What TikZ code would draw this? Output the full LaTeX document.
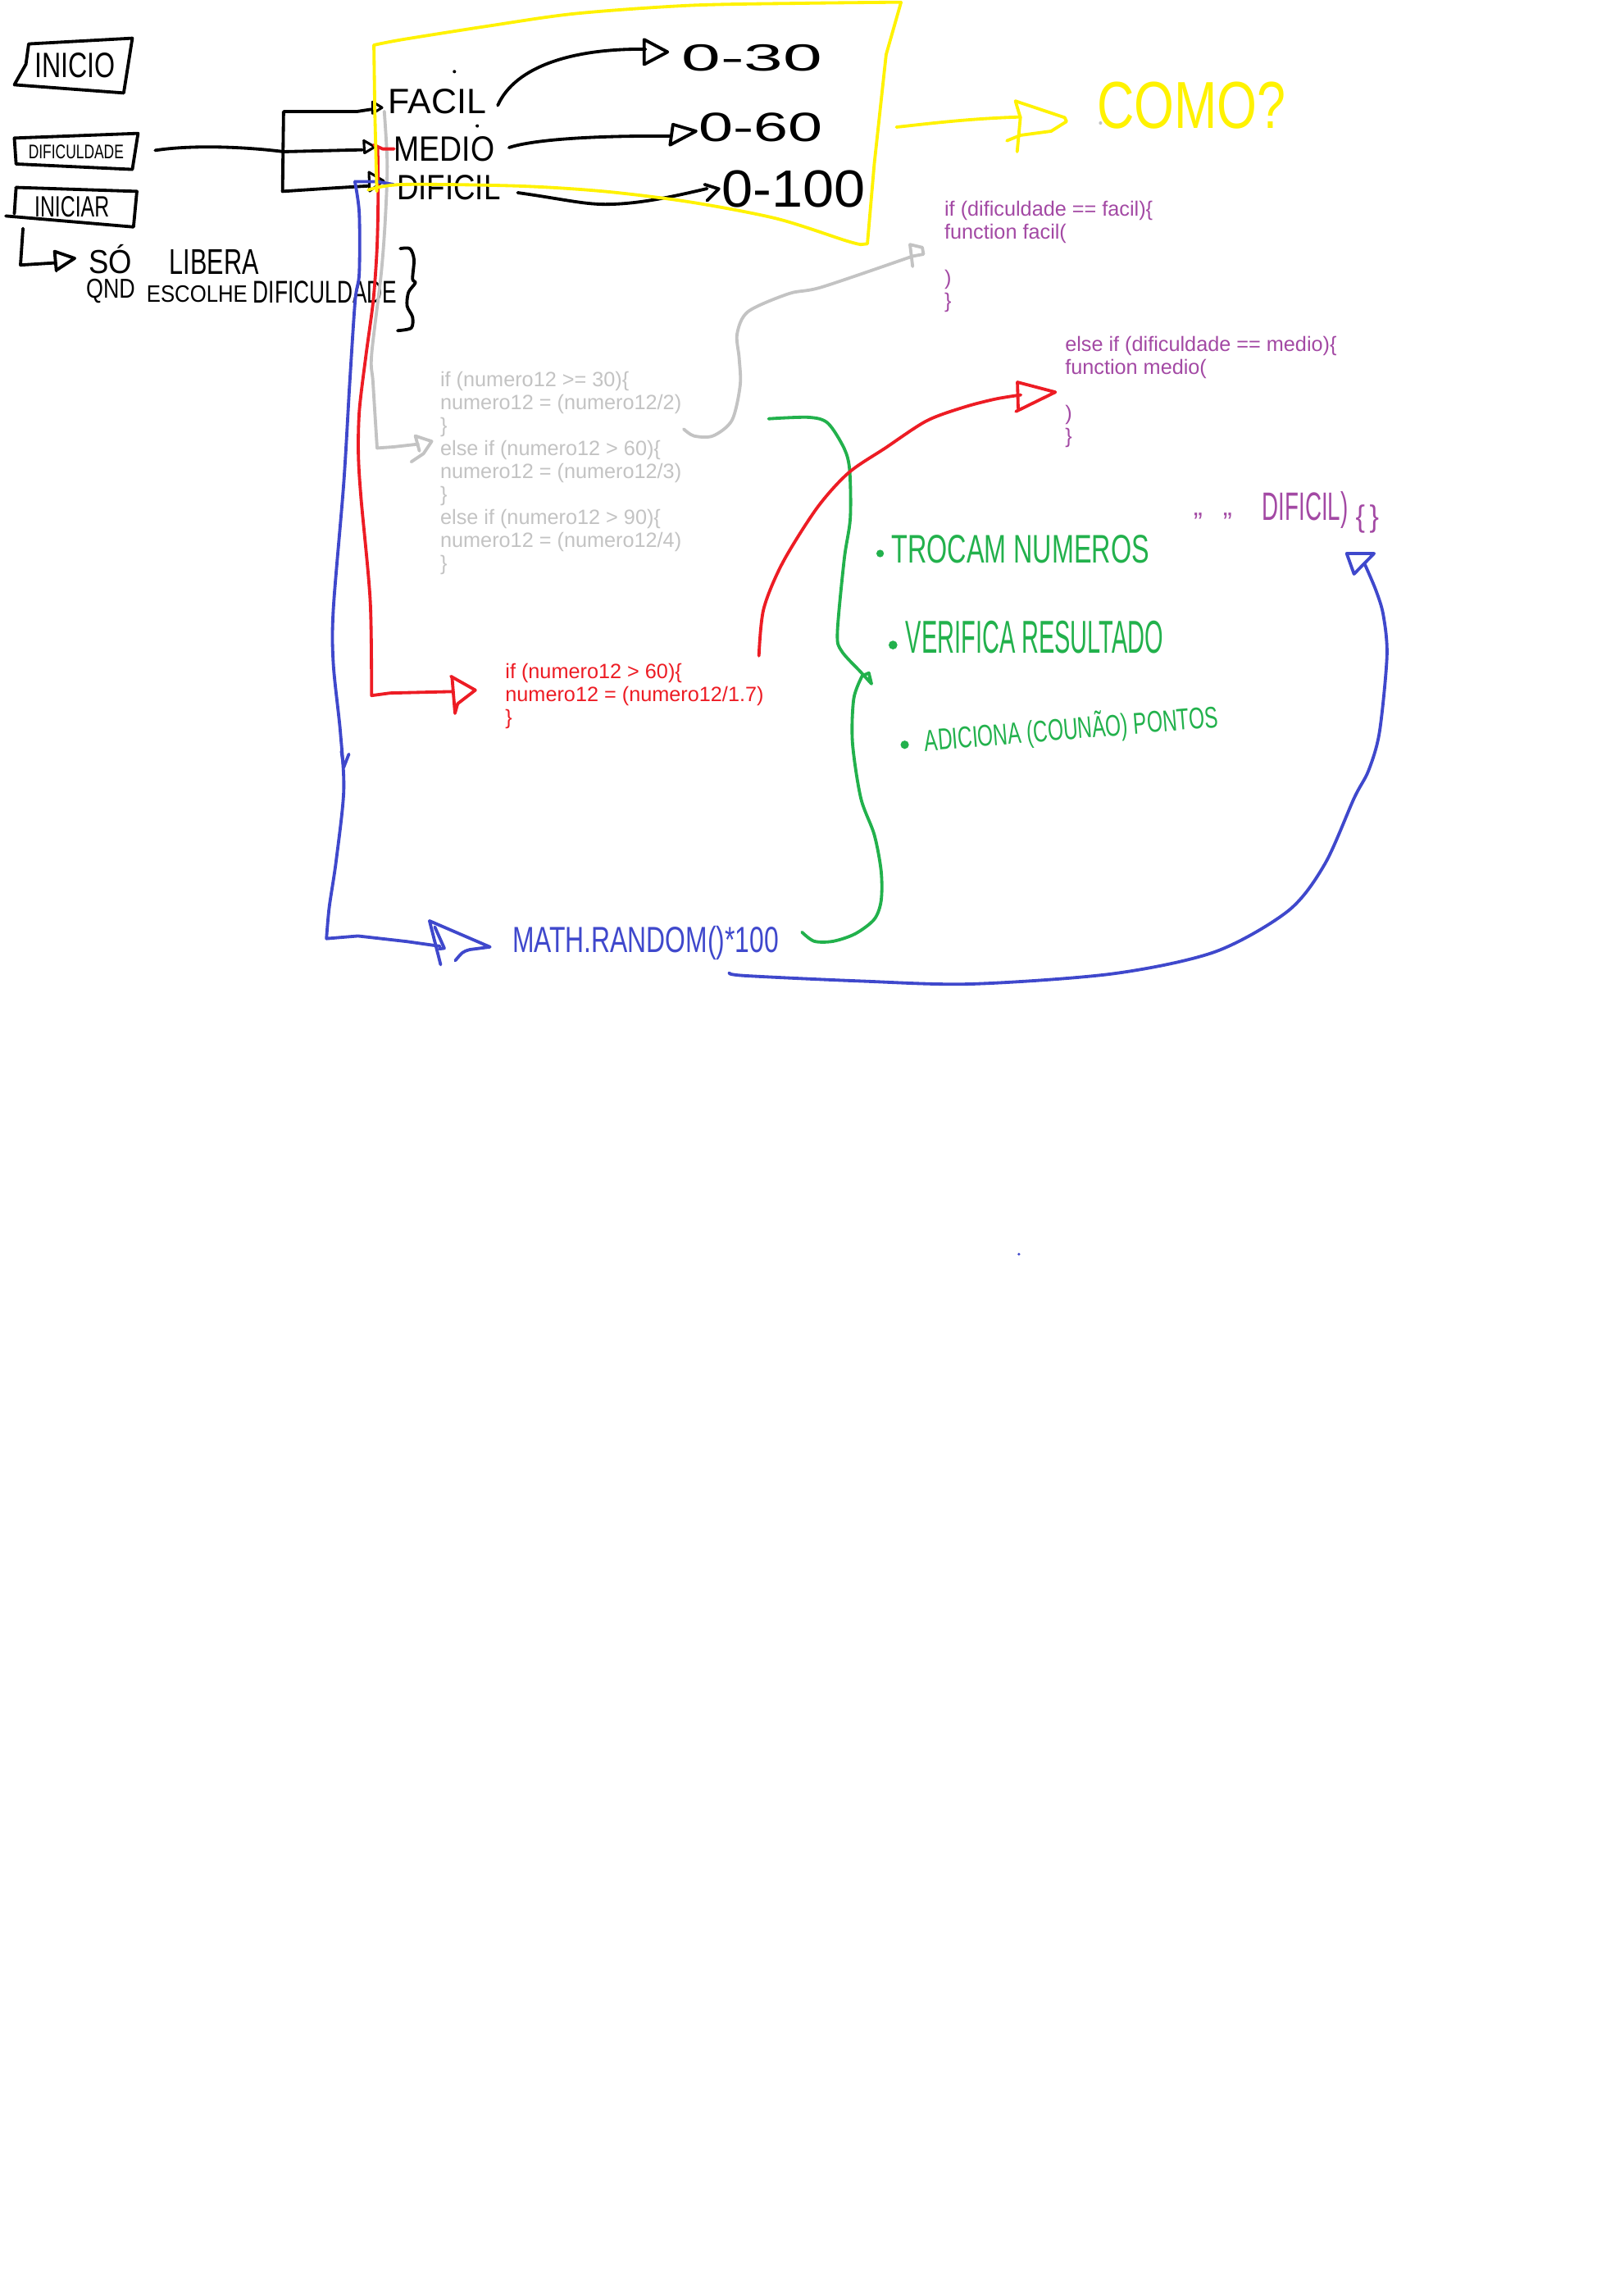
\documentclass[tikz,border=0pt]{standalone}
\usepackage{fontspec}
\setmainfont{Liberation Sans}

\definecolor{inkyellow}{RGB}{255,242,0}
\definecolor{inkred}{RGB}{237,28,36}
\definecolor{inkgreen}{RGB}{34,177,76}
\definecolor{inkblue}{RGB}{63,72,204}
\definecolor{inkgray}{RGB}{195,195,195}
\definecolor{inkpurple}{RGB}{163,73,164}

\newlength{\pxu}
\setlength{\pxu}{0.7pt}
% hand lettering: text stretched to a width and height given in drawing units
\newcommand{\handtext}[3]{\resizebox{#1\pxu}{#2\pxu}{#3}}
% a block of code lines; its baseline is the baseline of the first line
\newcommand{\codelines}[1]{\vtop{\baselineskip=11pt\lineskiplimit=-20pt\lineskip=0pt #1}}

\tikzset{
  pen/.style={line width=1.5pt, line cap=round, line join=round},
  thinpen/.style={line width=1.2pt, line cap=round, line join=round},
  lettering/.style={inner sep=0pt, anchor=center},
  code/.style={inner sep=0pt, anchor=base west, font=\fontsize{9.9pt}{11pt}\selectfont},
}

\begin{document}
\begin{tikzpicture}[x=0.7pt, y=-0.7pt]
\useasboundingbox (0,0) rectangle (1097,1568);
\fill[white] (0,0) rectangle (1097,1568);

% ---------- black: menu boxes ----------
\node[lettering] (inicio) at (51.1,44.8) {\handtext{55}{16.8}{INICIO}};
\draw[pen] (19.6,30) -- (90.4,26.1) -- (84.5,63.5) -- (9.8,57.9) -- (17.7,43.9) -- cycle;
\node[lettering] (dificuldade) at (52,103.6) {\handtext{65}{9.4}{DIFICULDADE}};
\draw[pen] (9.8,94.3) -- (94.3,91.1) -- (90.4,115.7) -- (11,112) -- cycle;
\node[lettering] (iniciar) at (49.1,141.4) {\handtext{51}{14}{INICIAR}};
\draw[pen] (11,128) -- (93.5,130.7) -- (91.2,155) -- (4,147.5);
\draw[pen] (11,128) -- (9.8,146);

% note under INICIAR
\node[lettering] (so) at (75.6,177) {\handtext{29.5}{19.7}{SÓ}};
\node[lettering] (libera) at (146.4,179.2) {\handtext{61}{16.8}{LIBERA}};
\node[lettering] (qnd) at (75.6,198.8) {\handtext{33.4}{13}{QND}};
\node[lettering] (escolhe) at (134.6,200.7) {\handtext{68.8}{11.3}{ESCOLHE}};
\node[lettering] (escolhadif) at (222,199.7) {\handtext{98.2}{15}{DIFICULDADE}};
\coordinate (iniciarfoot) at (15.7,156);
\draw[pen] (iniciarfoot) -- (14,181) -- (38,179.5);
\draw[pen] (38.5,185) -- (37.3,171.7) -- (51,176.4) -- (39.3,184);
\draw[pen] plot[smooth] coordinates {(273.4,169.8) (280,169.8) (282.8,177.3) (281.8,190.4) (283.7,193.2) (279,199.7) (278.1,209) (281.8,216.5) (280.9,224) (271.6,225.8)};

% difficulty levels
\node[lettering] (facil) at (298.6,69.1) {\handtext{66.8}{16.8}{FACIL}};
\node[lettering] (medio) at (303.5,101.7) {\handtext{68.7}{16.8}{MEDIO}};
\node[lettering] (dificil) at (306.5,127.9) {\handtext{70.7}{16.8}{DIFICIL}};
\coordinate (bracketin) at (193.7,103.6);
\draw[pen] (106,102.7) .. controls (130,99) and (165,100) .. (bracketin);
\draw[pen] (253.4,74.7) -- (243.6,76.2) -- (193.7,76.2) -- (193,130.7) -- (227.9,128.4) -- (251.5,127);
\draw[pen] (bracketin) -- (247.5,102.3);
\draw[thinpen] (254.5,69.5) -- (261,73.5) -- (254.5,77.5) -- cycle;
\draw[thinpen] (248.5,96) -- (256,100.3) -- (249,104.5) -- cycle;
\draw[thinpen] (252,117.6) -- (262,123.5) -- (252.5,130.5) -- cycle;
\fill (310.4,48.9) circle[radius=0.8pt];
\fill (326,86) circle[radius=0.8pt];

% ranges
\node[lettering] (r30) at (513.7,39.7) {\handtext{96}{18}{0-30}};
\node[lettering] (r60) at (519.6,87.2) {\handtext{84.5}{19.5}{0-60}};
\node[lettering] (r100) at (542.2,129.3) {\handtext{98}{25}{0-100}};
\draw[pen] (340,72) .. controls (352,45) and (392,33) .. (441,33.6);
\draw[pen] (440,27) -- (456,35.5) -- (440,44) -- cycle;
\draw[pen] (347.7,100.8) .. controls (365,95) and (410,92.5) .. (457.7,93);
\draw[pen] (459.7,85) -- (475.4,89.6) -- (457.7,99) -- cycle;
\draw[pen] (353.6,131.6) .. controls (385,136) and (400,140) .. (416.5,139.5) .. controls (440,139) and (465,133) .. (483,128.8);
\draw[pen] (481.3,126) -- (491,129) -- (483,137);

% ---------- code snippets ----------
\node[code, text=inkpurple] (facilcode) at (644.9,147.5) {\codelines{\hbox{if (dificuldade == facil)\{}\hbox{function facil(}\hbox{}\hbox{)}\hbox{\}}}};
\node[code, text=inkpurple] (mediocode) at (727.3,240) {\codelines{\hbox{else if (dificuldade == medio)\{}\hbox{function medio(}\hbox{}\hbox{)}\hbox{\}}}};
\node[code, text=inkgray] (numcode) at (300.5,264) {\codelines{\hbox{if (numero12 >= 30)\{}\hbox{numero12 = (numero12/2)}\hbox{\}}\hbox{else if (numero12 > 60)\{}\hbox{numero12 = (numero12/3)}\hbox{\}}\hbox{else if (numero12 > 90)\{}\hbox{numero12 = (numero12/4)}\hbox{\}}}};
\node[code, text=inkred] (redcode) at (344.9,463.2) {\codelines{\hbox{if (numero12 > 60)\{}\hbox{numero12 = (numero12/1.7)}\hbox{\}}}};

% handwritten purple note
\node[inner sep=0pt, anchor=base west, text=inkpurple, font=\fontsize{13pt}{13pt}\selectfont] (quotes) at (815,363.3) {"\hspace{0.75em}"};
\node[lettering, text=inkpurple] (dificilnote) at (891.6,348.5) {\handtext{58.7}{19.6}{DIFICIL)}};
\node[lettering, text=inkpurple] (braces) at (934,354.5) {\handtext{16}{15}{\{\,\}}};

% ---------- gray connectors ----------
\draw[pen, inkgray] plot[smooth] coordinates {(262.5,76) (264.5,112) (263.2,149.3) (260.4,186.6) (253.8,242.6) (254.8,261.3) (257.6,306)} -- (268.8,305.2) -- (285.6,303.3);
\draw[pen, inkgray] (286.5,308) -- (283.7,297.7) -- (294.9,301.4) -- (289.3,309.8) -- (280.9,315.4);
\draw[pen, inkgray] plot[smooth] coordinates {(467,293) (474,297.7) (487,297.7) (500,287) (505.6,263) (504.9,244.5) (503.5,228) (511,212.8) (539,200.5) (561.6,196) (623.3,175)};
\draw[pen, inkgray] (623.4,182) -- (621.6,167) -- (630,169) -- (630.8,173.6) -- (623.3,175);
\fill[inkgray] (751.7,84) circle[radius=0.8pt];

% ---------- green bracket and list ----------
\draw[pen, inkgreen] plot[smooth] coordinates {(525,286) (552.4,285) (565.5,289) (576.7,306.4) (580.4,321.4) (580.8,354) (576.7,381.7) (572,432) (574.8,444.5) (588,459) (595.3,467)} -- (593.5,459.6) -- (589,461.5);
\draw[pen, inkgreen] plot[smooth] coordinates {(589,461.5) (583.2,477) (582.3,507) (588,545) (597.2,570) (601.9,595) (601.9,615) (597.2,627.8) (584.2,637.7) (569.2,642.8) (556.2,642.8) (547.8,636.6)};
\fill[inkgreen] (601.2,378) circle[radius=1.8pt];
\fill[inkgreen] (610,440.5) circle[radius=2.1pt];
\fill[inkgreen] (618,508.6) circle[radius=2pt];
\node[lettering, text=inkgreen] (trocam) at (697,375) {\handtext{176}{19}{TROCAM NUMEROS}};
\node[lettering, text=inkgreen] (verifica) at (706.7,435) {\handtext{176}{22}{VERIFICA RESULTADO}};
\node[lettering, text=inkgreen, rotate=4.7] (adiciona) at (731.7,498) {\handtext{201}{18}{ADICIONA (COUNÃO) PONTOS}};

% ---------- red connectors ----------
\draw[pen, inkred] (255.4,98.9) -- (261.3,101.7) -- (269.2,101.7);
\draw[pen, inkred] plot[smooth] coordinates {(258,102) (258.3,135) (257.5,170) (255,205) (250,242.6) (245.5,280) (244.8,310) (246.6,340) (252.9,410.4) (253.8,475)} -- (266.5,473.3) -- (308.8,472.3);
\draw[pen, inkred] (308.8,462.7) -- (310.8,487.1);
\draw[pen, inkred] (308,461.9) -- (324.7,471.3) -- (312.6,480.6) -- (310.8,487.1);
\draw[pen, inkred] plot[smooth] coordinates {(518.4,447.9) (521.6,416) (534.5,384.5) (558,347) (579.5,323) (604.7,306) (633,287.4) (658.7,278) (680,272.5) (697.3,269.7)};
\draw[pen, inkred] (695,261) -- (720.9,267.8) -- (694,281);
\draw[pen, inkred] (695,261) -- (695.5,279);

% ---------- blue connectors ----------
\node[lettering, text=inkblue] (mathrandom) at (441,644) {\handtext{182}{18}{MATH.RANDOM()*100}};
\draw[pen, inkblue] (268.8,126) -- (257.5,124) -- (242.4,124);
\draw[pen, inkblue] plot[smooth] coordinates {(242.4,124) (245.4,145.6) (245.4,186.6) (242.6,205.3) (238.9,261.3) (234.8,330) (227.7,416) (227.7,453.5) (232.5,500) (234.8,540) (229.6,588) (224.9,619.6) (223,641)} -- (244.5,639.2) -- (278,643) -- (300.5,646.2);
\draw[pen, inkblue] (233.2,513) -- (234.8,524) -- (238.3,515);
\draw[pen, inkblue] (293.4,628.9) -- (334.7,646.7) -- (320.9,648.5) .. controls (316,650) .. (311,656);
\draw[pen, inkblue] (293.4,628.9) -- (301,658.8);
\draw[pen, inkblue] (297,633) -- (303.5,647.6) -- (300,648);
\draw[pen, inkblue] plot[smooth] coordinates {(498.3,664.4) (508.4,666.3) (588,670) (663,672) (760,665) (830,650) (880,622) (905,590) (925,545) (934.8,526.3) (942.3,500) (947.4,448) (944.9,420) (939.8,403) (932.3,385.4)};
\draw[pen, inkblue] (919.9,378) -- (938.6,378) -- (924.9,392) -- cycle;
\fill[inkblue] (696,856.5) circle[radius=0.7pt];

% ---------- yellow frame and question ----------
\draw[pen, inkyellow] plot[smooth] coordinates {(255.4,30.8) (275,27) (334,17.7) (393,9.3) (471.5,3.7) (550,2.2) (615.5,1.5)};
\draw[pen, inkyellow] (615.5,1.5) -- (605.3,37.3) -- (597.2,112) -- (592.5,166.5) -- (587.9,167);
\draw[pen, inkyellow] plot[smooth] coordinates {(588,167) (577.6,164.3) (530.5,149.3) (471.5,138) (412.6,130.7) (353.6,127) (275,126) (251.5,129.7)};
\draw[pen, inkyellow] (255.4,30.8) -- (256,74.7) -- (257.4,130.7);
\node[lettering, text=inkyellow] (como) at (813.9,71.9) {\handtext{129}{31.7}{COMO?}};
\draw[pen, inkyellow] (612.3,86.8) .. controls (630,85) and (660,81) .. (697,79.9);
\draw[pen, inkyellow] (693.6,69) -- (727.3,80.3) -- (728.5,83) -- (718,89.6) -- (697,92.4) -- (687.8,96.1);
\draw[pen, inkyellow] (693.6,69) -- (697,80.3) -- (694.8,103.6);
\end{tikzpicture}
\end{document}
